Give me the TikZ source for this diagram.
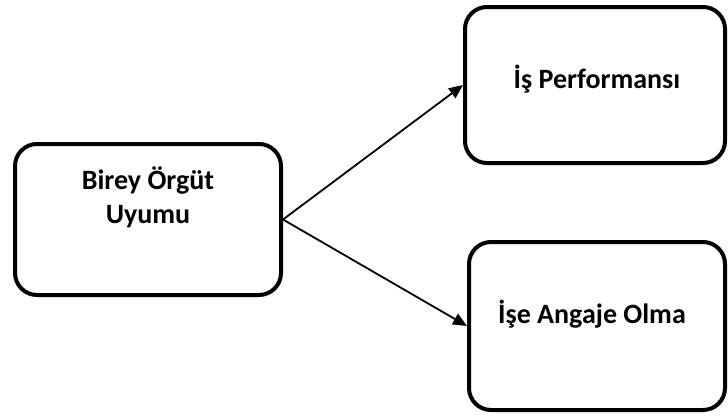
\documentclass[tikz,border=0pt]{standalone}
\usepackage{fontspec}
\setmainfont{Carlito}
\usepackage{tikz}
\usetikzlibrary{arrows.meta}

\begin{document}
\begin{tikzpicture}[x=1pt, y=-1pt,
		box/.style={draw, line width=4pt, rounded corners=22pt, inner sep=0pt},
		label/.style={font=\bfseries\fontsize{28}{34}\selectfont, align=center, anchor=base},
		link/.style={-{Triangle[length=14pt, width=12pt]}, line width=1.8pt}]
			\useasboundingbox (0,0) rectangle (728,415);

			% Boxes
			\node[box, minimum width=266pt, minimum height=151pt] (birey) at (148,219.5) {};
			\node[box, minimum width=260pt, minimum height=156pt] (perf) at (595,85) {};
			\node[box, minimum width=256pt, minimum height=168pt] (angaje) at (597,326) {};

			% Texts
			\node[label] (bireytext) at (148,223) {Birey Örgüt\\Uyumu};
			\node[label] (perftext) at (597,88) {İş Performansı};
			\node[label] (angajetext) at (592,323) {İşe Angaje Olma};

			% Links
			\draw[link] (birey.east) -- (perf.west);
			\draw[link] (birey.east) -- (angaje.west);
		\end{tikzpicture}
\end{document}
